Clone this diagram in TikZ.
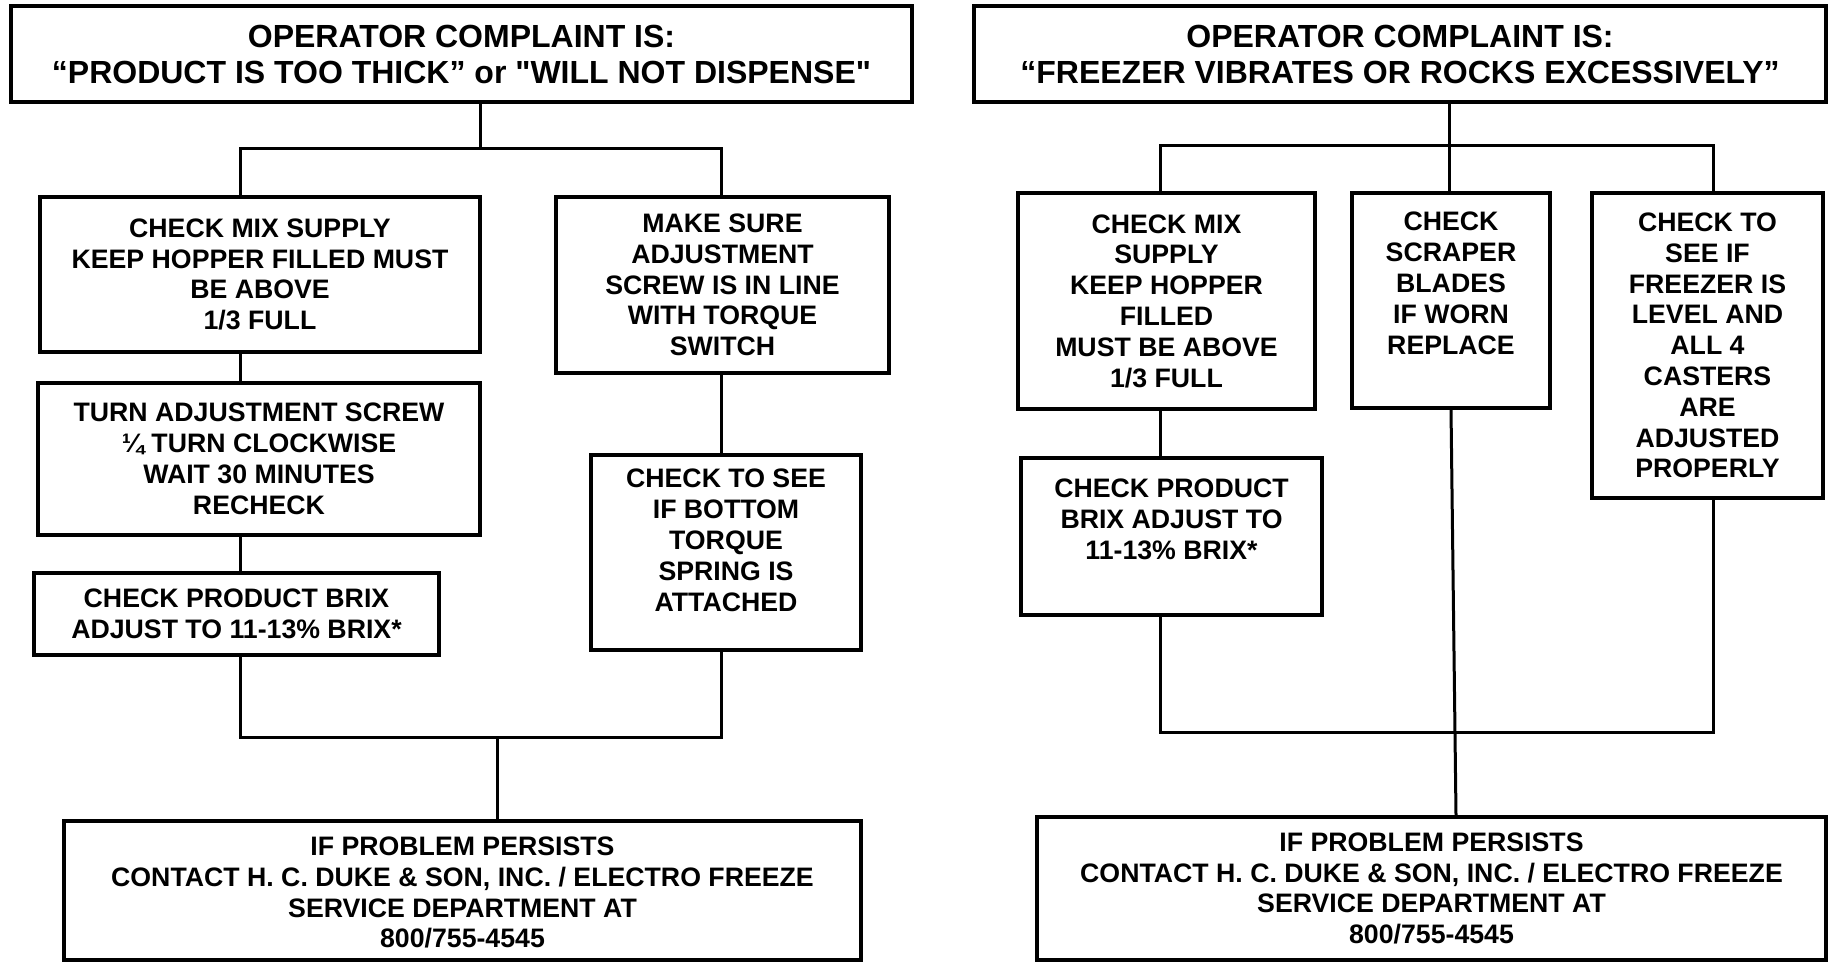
\documentclass[tikz,border=0pt]{standalone}
\usepackage{fontspec}
\newfontfamily\chartfont{Liberation Sans}
\usetikzlibrary{calc}

\tikzset{
  box/.style={draw,line width=1.75pt,align=center,inner sep=0pt,
    font=\chartfont\fontsize{13.35pt}{15.4pt}\selectfont\bfseries},
  title/.style={box,font=\chartfont\fontsize{16pt}{18pt}\selectfont\bfseries},
  link/.style={line width=1.5pt}
}

\begin{document}
\begin{tikzpicture}[x=0.5pt,y=-0.5pt]
  \fill[white] (0,0) rectangle (1829,963);
  \useasboundingbox (0,0) rectangle (1829,963);

  % left chart
  \node[title,minimum width=450.5pt,minimum height=48pt] (topL) at (461.5,54)
    {OPERATOR COMPLAINT IS:\\“PRODUCT IS TOO THICK” or "WILL NOT DISPENSE"};
  \node[box,minimum width=220pt,minimum height=77.5pt] (A1) at (260,274.5)
    {CHECK MIX SUPPLY\\KEEP HOPPER FILLED MUST\\BE ABOVE\\1/3 FULL};
  \node[box,minimum width=221pt,minimum height=76pt] (A2) at (259,459)
    {TURN ADJUSTMENT SCREW\\¼ TURN CLOCKWISE\\WAIT 30 MINUTES\\RECHECK};
  \node[box,minimum width=202.5pt,minimum height=41pt] (A3) at (236.5,614)
    {CHECK PRODUCT BRIX\\ADJUST TO 11-13\% BRIX*};
  \node[box,minimum width=166.5pt,minimum height=88pt] (B1) at (722.5,285)
    {MAKE SURE\\ADJUSTMENT\\SCREW IS IN LINE\\WITH TORQUE\\SWITCH};
  \node[box,minimum width=135pt,minimum height=97.5pt] (B2) at (726,552.5)
    {CHECK TO SEE\\IF BOTTOM\\TORQUE\\SPRING IS\\ATTACHED\\[-3pt]\mbox{}};
  \node[box,minimum width=398.5pt,minimum height=69.5pt] (botL) at (462.5,890.5)
    {\mbox{}\\[-4pt]IF PROBLEM PERSISTS\\CONTACT H. C. DUKE \& SON, INC. / ELECTRO FREEZE\\SERVICE DEPARTMENT AT\\800/755-4545};

  \coordinate (colA) at (240,0);
  \coordinate (colB) at (721,0);
  \coordinate (splitL) at (480,148);
  \coordinate (mergeL) at (497,737);
  \draw[link] (topL.south -| splitL) -- (splitL);
  \draw[link] (A1.north -| colA) |- (splitL) -| (B1.north -| colB);
  \draw[link] (A1.south -| colA) -- (A2.north -| colA);
  \draw[link] (A2.south -| colA) -- (A3.north -| colA);
  \draw[link] (B1.south -| colB) -- (B2.north -| colB);
  \draw[link] (A3.south -| colA) |- (mergeL) -| (B2.south -| colB);
  \draw[link] (mergeL) -- (botL.north -| mergeL);

  % right chart
  \node[title,minimum width=426pt,minimum height=48pt] (topR) at (1400,54)
    {OPERATOR COMPLAINT IS:\\“FREEZER VIBRATES OR ROCKS EXCESSIVELY”};
  \node[box,minimum width=148.5pt,minimum height=108pt] (C1) at (1166.5,301)
    {CHECK MIX\\SUPPLY\\KEEP HOPPER\\FILLED\\MUST BE ABOVE\\1/3 FULL};
  \node[box,minimum width=150.5pt,minimum height=78.5pt] (C2) at (1171.5,536.5)
    {CHECK PRODUCT\\BRIX ADJUST TO\\11-13\% BRIX*\\[2pt]\mbox{}};
  \node[box,minimum width=99pt,minimum height=107.5pt] (D1) at (1451,300.5)
    {CHECK\\SCRAPER\\BLADES\\IF WORN\\REPLACE\\[2pt]\mbox{}};
  \node[box,minimum width=115.5pt,minimum height=152.5pt] (E1) at (1707.5,345.5)
    {CHECK TO\\SEE IF\\FREEZER IS\\LEVEL AND\\ALL 4\\CASTERS\\ARE\\ADJUSTED\\PROPERLY};
  \node[box,minimum width=394.5pt,minimum height=71.5pt] (botR) at (1431.5,888.5)
    {IF PROBLEM PERSISTS\\CONTACT H. C. DUKE \& SON, INC. / ELECTRO FREEZE\\SERVICE DEPARTMENT AT\\800/755-4545};

  \coordinate (colC) at (1160,0);
  \coordinate (colE) at (1713,0);
  \coordinate (splitR) at (1449,145);
  \coordinate (mergeR) at (1455,732);
  \coordinate (dBot) at (1456,0);
  \draw[link] (topR.south -| splitR) -- (D1.north -| splitR);
  \draw[link] (C1.north -| colC) |- (splitR) -| (E1.north -| colE);
  \draw[link] (C1.south -| colC) -- (C2.north -| colC);
  \draw[link] (C2.south -| colC) |- (mergeR) -| (E1.south -| colE);
  \draw[link] (D1.south) -- (botR.north -| dBot);
\end{tikzpicture}
\end{document}
